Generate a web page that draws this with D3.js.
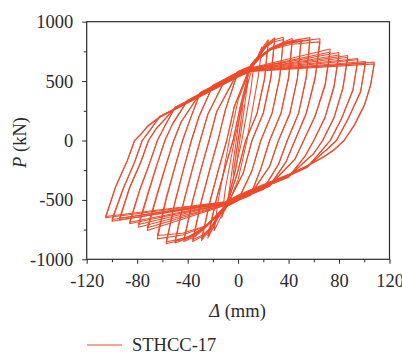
<!DOCTYPE html>
<html><head><meta charset="utf-8">
<script src="https://cdn.jsdelivr.net/npm/d3@7/dist/d3.min.js"></script>
<style>body{margin:0;background:#fff}svg{display:block}</style>
</head><body>
<script>
// ---------- data ----------
const seriesName = "STHCC-17";
const xTicks = [-120, -80, -40, 0, 40, 80, 120];
const xMinorTicks = [-100, -60, -20, 20, 60, 100];
const yTicks = [-1000, -500, 0, 500, 1000];
const yMinorTicks = [-750, -250, 250, 750];
// hysteresis cycles: [displacement (mm), load (kN)]
const loop01 = [[4,300],[1,60],[-2,-150],[-4,-290],[-1,-60],[2,150],[4,300]];
const loop02 = [[8,520],[4,200],[-2,-250],[-8,-500],[-4,-190],[2,260],[8,520]];
const loop03 = [[13,680],[10,420],[3,0],[-4,-330],[-9,-520],[-13,-650],[-10,-400],[-3,0],[4,330],[9,530],[13,680]];
const loop04 = [[19,790],[16,540],[7,0],[0,-330],[-8,-540],[-14,-650],[-19,-760],[-16,-520],[-7,0],[0,340],[8,560],[14,670],[19,790]];
const loop05 = [[24,850],[21,527],[15,230],[6,0],[-1,-293],[-10,-570],[-16,-650],[-20,-740],[-24,-820],[-17,-492],[-10,-221],[-4,0],[2,300],[10,635],[16,710],[20,790],[24,850]];
const loop06 = [[24,830],[21,515],[15,224],[6,0],[-1,-290],[-10,-565],[-16,-645],[-20,-735],[-24,-800],[-17,-480],[-10,-216],[-4,0],[2,297],[10,630],[16,705],[20,780],[24,830]];
const loop07 = [[29,866],[26,537],[20,234],[11,0],[4,-278],[-10,-570],[-16,-650],[-22,-750],[-29,-842],[-22,-505],[-15,-227],[-9,0],[-3,287],[10,635],[16,710],[22,800],[29,866]];
const loop08 = [[29,845],[26,524],[20,228],[11,0],[4,-275],[-10,-565],[-16,-645],[-22,-745],[-29,-825],[-22,-495],[-15,-223],[-9,0],[-3,284],[10,630],[16,705],[22,795],[29,845]];
const loop09 = [[36,870],[33,539],[27,235],[18,0],[11,-256],[0,-505],[-10,-560],[-16,-640],[-22,-740],[-28,-805],[-36,-850],[-29,-510],[-22,-230],[-16,0],[-10,262],[0,580],[10,625],[16,700],[22,790],[28,845],[36,870]];
const loop10 = [[36,850],[33,527],[27,230],[18,0],[11,-253],[0,-500],[-10,-555],[-16,-635],[-22,-735],[-28,-795],[-36,-835],[-29,-501],[-22,-225],[-16,0],[-10,260],[0,575],[10,620],[16,695],[22,785],[28,830],[36,850]];
const loop11 = [[43,860],[40,533],[34,232],[25,0],[18,-239],[10,-460],[0,-505],[-10,-560],[-17,-640],[-26,-735],[-34,-810],[-43,-850],[-36,-510],[-29,-230],[-23,0],[-17,243],[0,580],[10,625],[17,705],[26,780],[43,860]];
const loop12 = [[43,840],[40,521],[34,227],[25,0],[18,-236],[10,-455],[0,-500],[-10,-555],[-17,-635],[-26,-730],[-34,-800],[-43,-835],[-36,-501],[-29,-225],[-23,0],[-17,241],[0,575],[10,620],[17,700],[26,775],[43,840]];
const loop13 = [[50,852],[47,528],[41,230],[32,0],[25,-219],[10,-455],[0,-500],[-10,-555],[-17,-635],[-26,-730],[-37,-810],[-50,-862],[-43,-517],[-36,-233],[-30,0],[-24,222],[-10,520],[0,575],[10,620],[17,700],[26,775],[38,825],[50,852]];
const loop14 = [[50,835],[47,518],[41,225],[32,0],[25,-216],[10,-450],[0,-495],[-10,-550],[-17,-630],[-26,-725],[-37,-800],[-50,-845],[-43,-507],[-36,-228],[-30,0],[-24,219],[-10,515],[0,570],[10,615],[17,695],[26,770],[38,815],[50,835]];
const loop15 = [[57,866],[54,537],[48,234],[39,0],[32,-202],[20,-412],[10,-455],[0,-500],[-10,-555],[-17,-635],[-26,-730],[-40,-825],[-57,-870],[-50,-522],[-43,-235],[-37,0],[-31,202],[-20,465],[-10,520],[0,575],[10,620],[17,700],[26,775],[40,835],[57,866]];
const loop16 = [[57,845],[54,524],[48,228],[39,0],[32,-200],[20,-407],[10,-450],[0,-495],[-10,-550],[-17,-630],[-26,-725],[-40,-815],[-57,-855],[-50,-513],[-43,-231],[-37,0],[-31,200],[-20,460],[-10,515],[0,570],[10,615],[17,695],[26,770],[40,820],[57,845]];
const loop17 = [[65,857],[61,531],[54,231],[45,0],[38,-181],[25,-385],[10,-450],[0,-495],[-10,-550],[-17,-630],[-26,-725],[-44,-795],[-64,-828],[-57,-497],[-50,-224],[-44,0],[-38,180],[-30,405],[-20,460],[-10,515],[0,570],[10,615],[17,695],[26,770],[42,830],[65,857]];
const loop18 = [[65,830],[61,515],[54,224],[45,0],[38,-178],[25,-380],[10,-445],[0,-490],[-10,-545],[-17,-625],[-26,-720],[-44,-780],[-64,-800],[-57,-480],[-50,-216],[-44,0],[-38,178],[-30,400],[-20,455],[-10,510],[0,565],[10,610],[17,690],[26,765],[42,810],[65,830]];
const loop19 = [[73,770],[69,477],[61,208],[52,0],[45,-160],[25,-380],[10,-445],[0,-490],[-10,-545],[-72,-758],[-64,-455],[-57,-205],[-51,0],[-45,160],[-30,400],[-20,455],[-10,510],[0,565],[10,610],[73,770]];
const loop20 = [[73,745],[69,462],[61,201],[52,0],[45,-157],[25,-375],[10,-440],[0,-485],[-10,-540],[-72,-735],[-64,-441],[-57,-198],[-51,0],[-45,158],[-30,395],[-20,450],[-10,505],[0,560],[10,605],[73,745]];
const loop21 = [[80,740],[76,459],[69,200],[60,0],[53,-135],[40,-310],[25,-375],[10,-440],[0,-485],[-10,-540],[-79,-730],[-71,-438],[-64,-197],[-58,0],[-52,140],[-40,340],[-30,395],[-20,450],[-10,505],[0,560],[10,605],[80,740]];
const loop22 = [[80,720],[76,446],[69,194],[60,0],[53,-132],[40,-305],[25,-370],[10,-435],[0,-480],[-10,-535],[-79,-707],[-71,-424],[-64,-191],[-58,0],[-52,138],[-40,335],[-30,390],[-20,445],[-10,500],[0,555],[10,600],[80,720]];
const loop23 = [[87,715],[83,443],[76,193],[67,0],[60,-110],[40,-305],[25,-370],[10,-435],[0,-480],[-10,-535],[-86,-701],[-78,-421],[-70,-189],[-64,0],[-58,125],[-50,280],[-40,335],[-30,390],[-20,445],[-10,500],[0,555],[10,600],[87,715]];
const loop24 = [[87,700],[83,434],[76,189],[67,0],[60,-108],[40,-300],[25,-365],[10,-430],[0,-475],[-10,-530],[-86,-688],[-78,-413],[-70,-186],[-64,0],[-58,122],[-50,275],[-40,330],[-30,385],[-20,440],[-10,495],[0,550],[10,595],[87,700]];
const loop25 = [[95,690],[91,428],[82,186],[73,0],[66,-90],[55,-225],[40,-300],[25,-365],[10,-430],[0,-475],[-10,-530],[-94,-670],[-86,-402],[-77,-181],[-71,0],[-65,100],[-50,275],[-40,330],[-30,385],[-20,440],[-10,495],[0,550],[10,595],[95,690]];
const loop26 = [[95,679],[91,421],[82,183],[73,0],[66,-87],[55,-220],[40,-295],[25,-360],[10,-425],[0,-470],[-10,-525],[-94,-655],[-86,-393],[-77,-177],[-71,0],[-65,97],[-50,270],[-40,325],[-30,380],[-20,435],[-10,490],[0,545],[10,590],[95,679]];
const loop27 = [[101,665],[97,412],[87,180],[78,0],[71,-70],[55,-220],[40,-295],[25,-360],[10,-425],[0,-470],[-10,-525],[-100,-679],[-91,-407],[-82,-183],[-76,0],[-71,70],[-62,205],[-50,270],[-40,325],[-30,380],[-20,435],[-10,490],[0,545],[10,590],[101,665]];
const loop28 = [[101,650],[97,403],[87,176],[78,0],[71,-68],[55,-215],[40,-290],[25,-355],[10,-420],[0,-465],[-10,-520],[-100,-665],[-91,-399],[-82,-180],[-76,0],[-71,68],[-62,200],[-50,265],[-40,320],[-30,375],[-20,430],[-10,485],[0,540],[10,585],[101,650]];
const loop29 = [[108,660],[105,470],[100,300],[92,130],[84,0],[76,-80],[68,-140],[55,-215],[40,-290],[25,-355],[10,-420],[0,-465],[-10,-520],[-105,-651],[-97,-391],[-88,-176],[-82,0],[-77,55],[-72,120],[-62,200],[-50,265],[-40,320],[-30,375],[-20,430],[-10,485],[0,540],[10,585],[108,660]];
const loop30 = [[108,645],[105,460],[100,290],[92,125],[84,0],[76,-78],[68,-135],[55,-210],[40,-285],[25,-350],[10,-415],[0,-460],[-10,-515],[-105,-640],[-97,-384],[-88,-173],[-82,0],[-77,52],[-72,115],[-62,195],[-50,260],[-40,315],[-30,370],[-20,425],[-10,480],[0,535],[10,580],[108,645]];
const loops = [loop01,loop02,loop03,loop04,loop05,loop06,loop07,loop08,loop09,loop10,
  loop11,loop12,loop13,loop14,loop15,loop16,loop17,loop18,loop19,loop20,
  loop21,loop22,loop23,loop24,loop25,loop26,loop27,loop28,loop29,loop30];

// ---------- drawing ----------
const W = 402, H = 354;
const L = 86.7, R = 389.5, T = 21.7, B = 259.3;
const red = "#ef4a2b", ink = "#2b2b2b";
const font = "'Liberation Serif','Times New Roman',serif";
const fs = 18.5;

const svg = d3.select("body").append("svg").attr("width", W).attr("height", H)
  .style("font-family", font);
svg.append("rect").attr("width", W).attr("height", H).attr("fill", "#fff");

const x = d3.scaleLinear().domain([-120, 120]).range([L, R]);
const y = d3.scaleLinear().domain([-1000, 1000]).range([B, T]);

// loops
const line = d3.line().x(d => x(d[0])).y(d => y(d[1]));
svg.append("g").selectAll("path").data(loops).join("path")
  .attr("d", line).attr("fill", "none").attr("stroke", red)
  .attr("stroke-width", 1.05).attr("stroke-linejoin", "round");

// axes
function styleAxis(g) {
  g.select(".domain").remove();
  g.selectAll(".tick line").attr("stroke", ink).attr("stroke-width", 1);
  g.selectAll(".tick text").attr("fill", ink).attr("font-size", fs).attr("font-family", font);
}
svg.append("g").attr("transform", `translate(0,${B})`)
  .call(d3.axisBottom(x).tickValues(xTicks).tickSize(4.5).tickPadding(10).tickFormat(d => String(d)))
  .call(styleAxis);
svg.append("g").attr("transform", `translate(0,${B})`)
  .call(d3.axisBottom(x).tickValues(xMinorTicks).tickSize(3).tickFormat(""))
  .call(styleAxis);
svg.append("g").attr("transform", `translate(${L},0)`)
  .call(d3.axisLeft(y).tickValues(yTicks).tickSize(4.5).tickPadding(9).tickFormat(d => String(d)))
  .call(styleAxis);
svg.append("g").attr("transform", `translate(${L},0)`)
  .call(d3.axisLeft(y).tickValues(yMinorTicks).tickSize(3).tickFormat(""))
  .call(styleAxis);

// frame
svg.append("rect").attr("x", L).attr("y", T).attr("width", R - L).attr("height", B - T)
  .attr("fill", "none").attr("stroke", ink).attr("stroke-width", 1.2);

// axis titles
const xt = svg.append("text").attr("x", 237.5).attr("y", 316.5).attr("text-anchor", "middle")
  .attr("font-size", fs).attr("fill", ink);
xt.append("tspan").attr("font-style", "italic").text("Δ");
xt.append("tspan").text(" (mm)");
const yt = svg.append("text").attr("transform", "translate(25.5,142.5) rotate(-90)")
  .attr("text-anchor", "middle").attr("font-size", fs).attr("fill", ink);
yt.append("tspan").attr("font-style", "italic").text("P");
yt.append("tspan").text(" (kN)");

// legend
svg.append("line").attr("x1", 87).attr("x2", 122).attr("y1", 345).attr("y2", 345)
  .attr("stroke", red).attr("stroke-width", 1.2);
svg.append("text").attr("x", 132).attr("y", 351).attr("font-size", fs).attr("fill", ink)
  .text(seriesName);
</script>
</body></html>
